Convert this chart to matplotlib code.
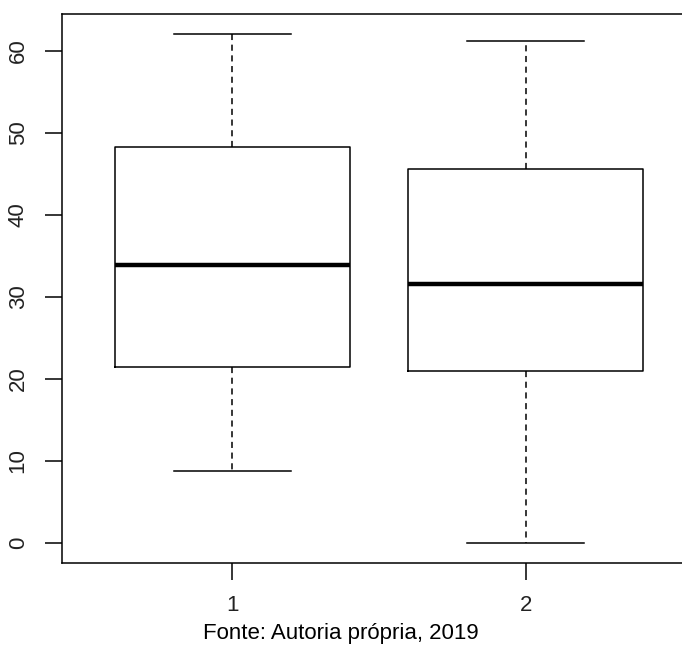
import matplotlib
matplotlib.use('Agg')
import matplotlib.pyplot as plt

# valores (boxplot estilo R)
grupos = ['1', '2']
minimos = [8.7, 0.0]
q1 = [21.4, 20.9]
medianas = [33.9, 31.6]
q3 = [48.2, 45.6]
maximos = [62.0, 61.2]
yticks = [0, 10, 20, 30, 40, 50, 60]
legenda = 'Fonte: Autoria própria, 2019'

plt.rcParams['font.family'] = ['Liberation Sans', 'DejaVu Sans']

W, H = 682, 646
fig = plt.figure(figsize=(W / 100, H / 100), dpi=100)
left, right, top, bottom = 62, 696, 14, 563
ax = fig.add_axes([left / W, 1 - bottom / H, (right - left) / W, (bottom - top) / H])

stats = []
for i in range(len(grupos)):
    stats.append({'whislo': minimos[i], 'q1': q1[i], 'med': medianas[i],
                  'q3': q3[i], 'whishi': maximos[i], 'label': grupos[i]})

ax.bxp(stats, positions=[1, 2], widths=0.8, showfliers=False, capwidths=0.4,
       boxprops=dict(color='black', linewidth=1.1),
       whiskerprops=dict(color='black', linewidth=1.1, linestyle=(0, (4, 3))),
       capprops=dict(color='black', linewidth=1.1),
       medianprops=dict(color='black', linewidth=3.2))

ax.set_xlim(0.42, 2.58)
ax.set_ylim(-2.48, 64.48)
ax.set_xticks([1, 2])
ax.set_xticklabels(grupos)
ax.set_yticks(yticks)
ax.set_yticklabels([str(v) for v in yticks], rotation=90, va='center')
ax.tick_params(direction='out', length=12, width=1.1, labelsize=16,
               colors='black', labelcolor='#222222')
ax.tick_params(axis='x', pad=11)
ax.tick_params(axis='y', pad=12)
for s in ax.spines.values():
    s.set_linewidth(1.1)

# legenda da fonte no rodape
fig.text(0.5, 0.003, legenda, ha='center', va='bottom', fontsize=16)

fig.savefig('out.png', dpi=100)
plt.close(fig)
